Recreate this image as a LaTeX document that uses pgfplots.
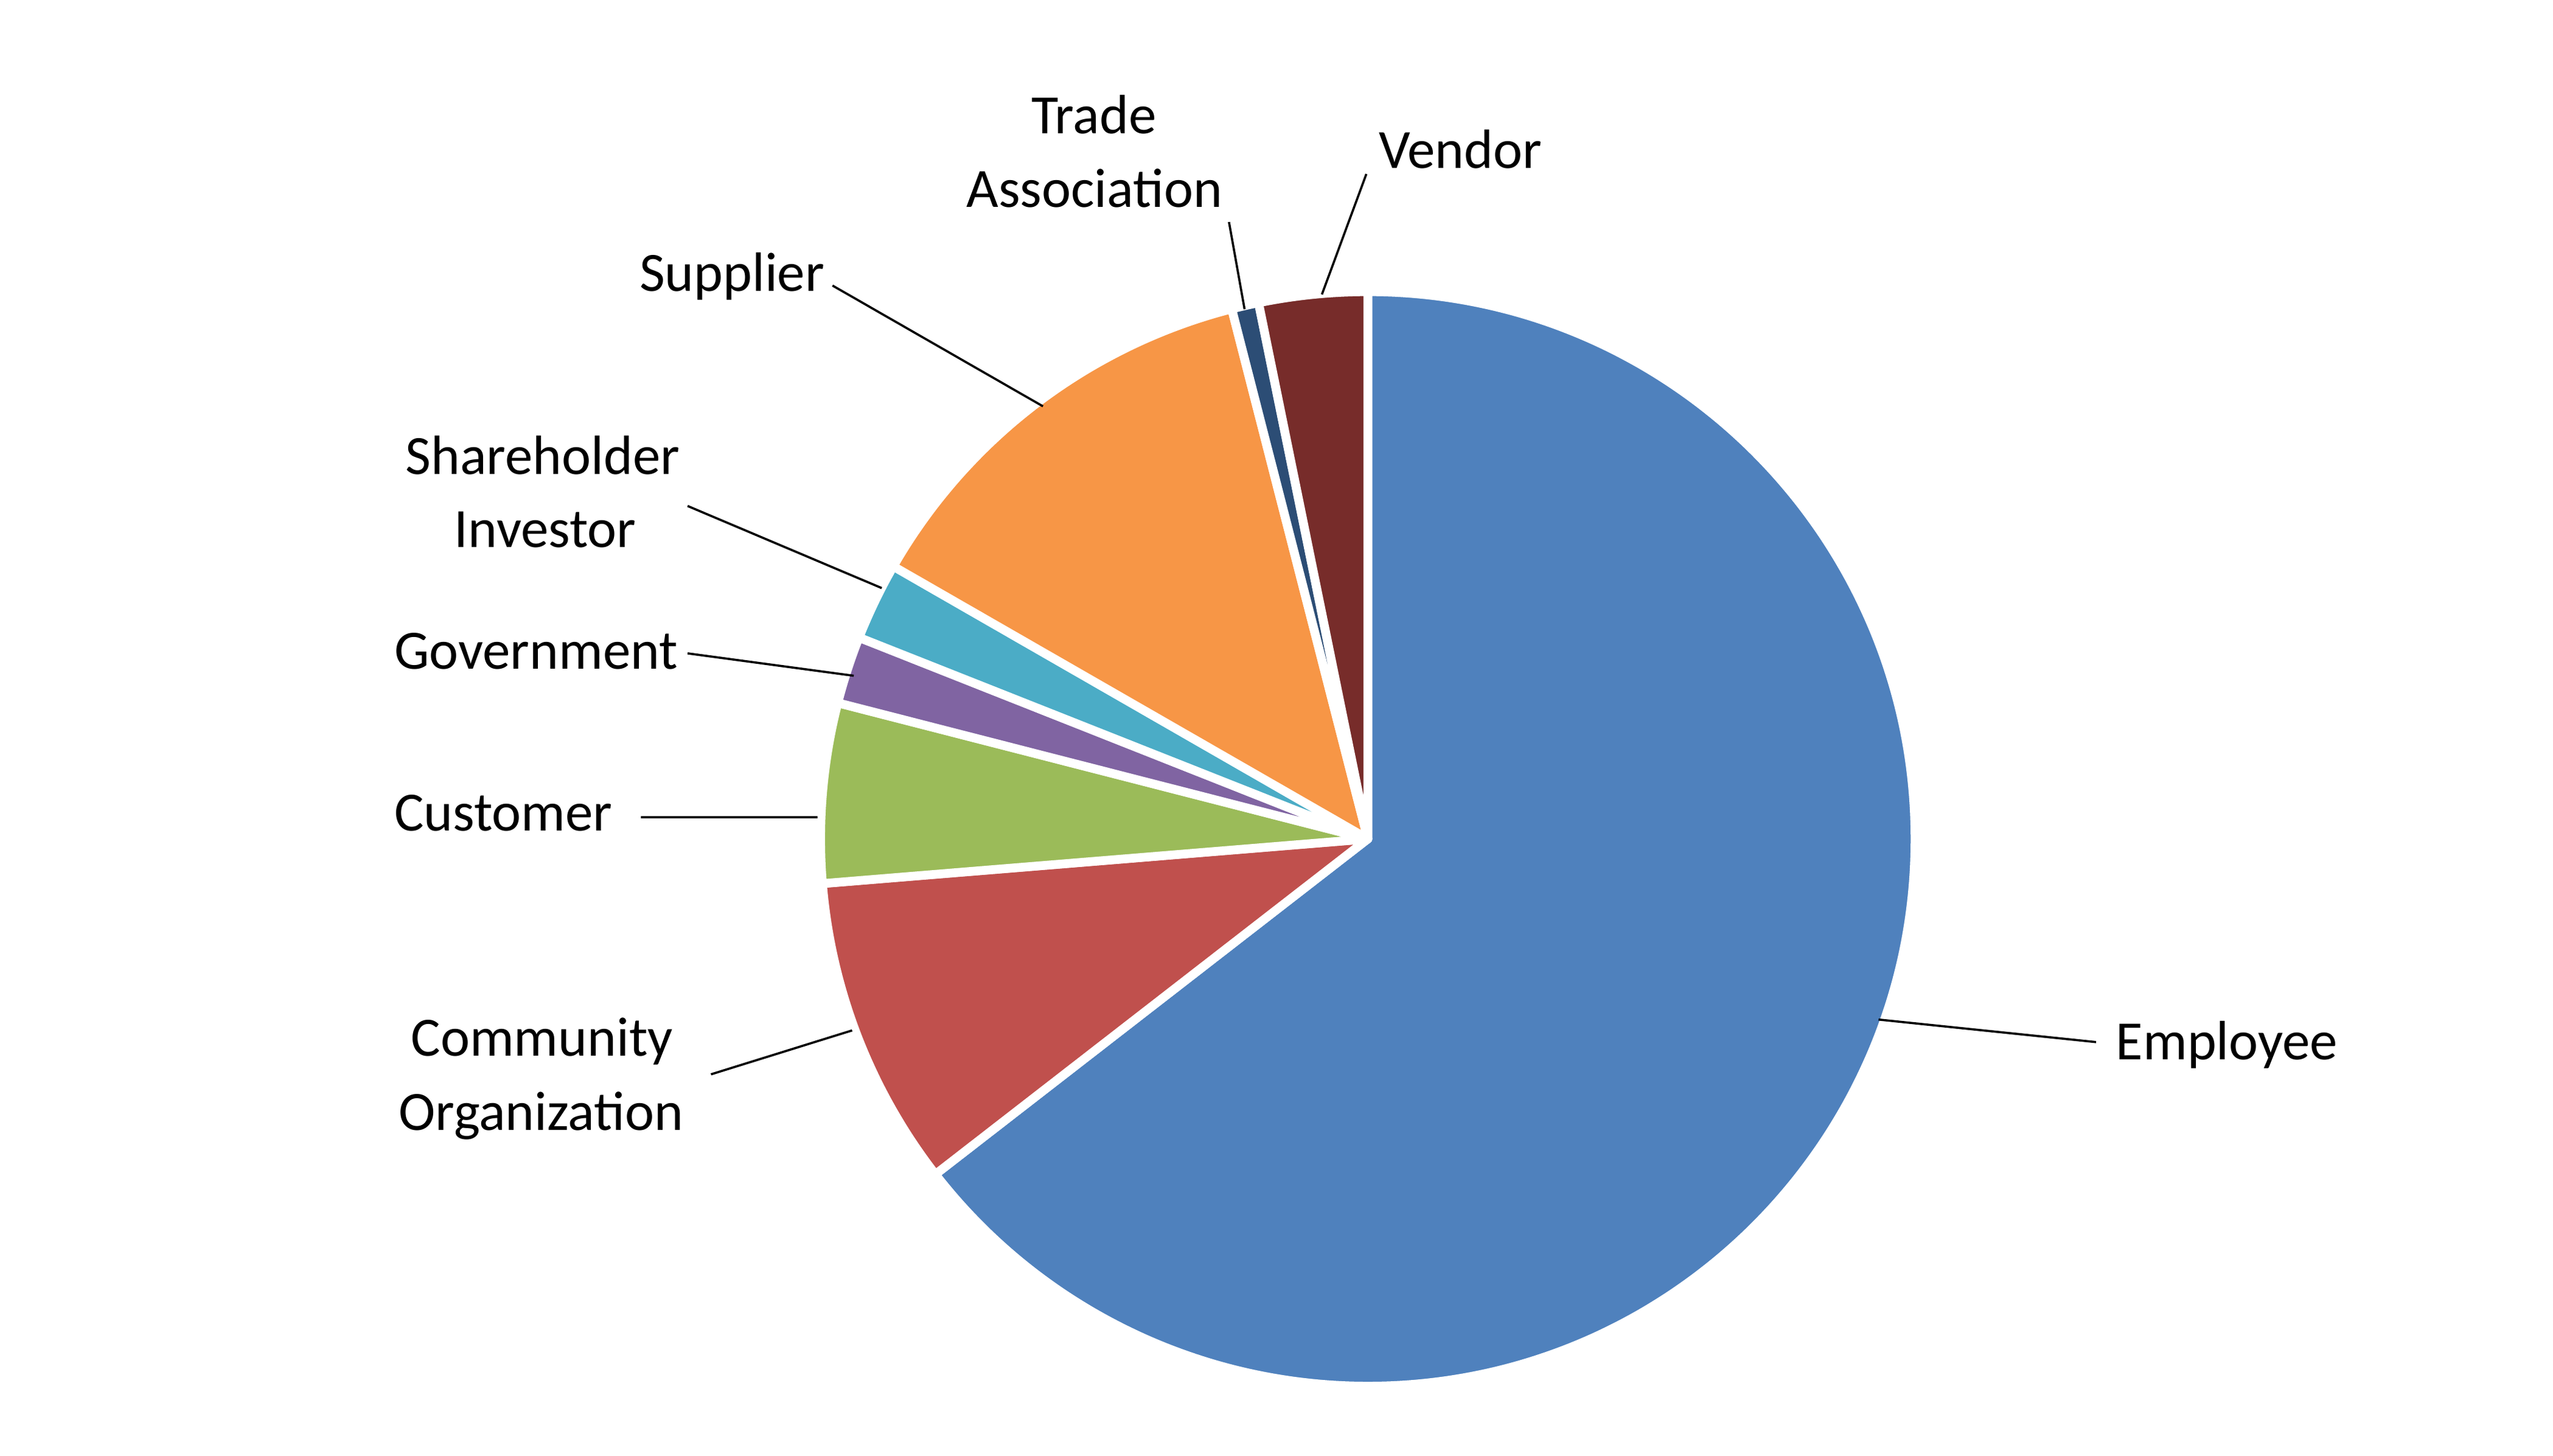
\documentclass[border=0pt]{standalone}
\usepackage{pgfplots}
\usepackage{pgfplotstable}
\usepackage{fontspec}
\setmainfont{Carlito}
\pgfplotsset{compat=1.18}

\definecolor{slice0}{HTML}{4F81BD}
\definecolor{slice1}{HTML}{C0504D}
\definecolor{slice2}{HTML}{9BBB59}
\definecolor{slice3}{HTML}{8064A2}
\definecolor{slice4}{HTML}{4BACC6}
\definecolor{slice5}{HTML}{F79646}
\definecolor{slice6}{HTML}{2C4D75}
\definecolor{slice7}{HTML}{772C2A}

% share of each group, in percent, clockwise from 12 o'clock
\pgfplotstableread{
name share
Employee 64.5
Community 9.2
Customer 5.3
Government 2.0
Shareholder 2.3
Supplier 12.7
Trade 0.8
Vendor 3.2
}\piedata

\begin{document}
\begin{tikzpicture}[lbl/.style={font=\fontsize{10.1}{13.4}\selectfont, inner sep=0pt, anchor=base}]
% start and end angle of each slice
\def\cum{0}
\pgfplotsforeachungrouped \i in {0,...,7}{%
  \pgfplotstablegetelem{\i}{share}\of\piedata
  \pgfmathsetmacro\sa{90-3.6*\cum}%
  \pgfmathsetmacro\cum{\cum+\pgfplotsretval}%
  \pgfmathsetmacro\ea{90-3.6*\cum}%
  \expandafter\xdef\csname sa\i\endcsname{\sa}%
  \expandafter\xdef\csname ea\i\endcsname{\ea}%
}
\begin{axis}[
    x=0.3pt, y=0.3pt,
    xmin=0, xmax=1552, ymin=0, ymax=885,
    hide axis, clip=false
]
\path (axis cs:0,0) rectangle (axis cs:1552,885);
\pgfplotsinvokeforeach{0,...,7}{
  \filldraw[fill=slice#1, draw=white, line width=1.6pt, line join=round]
    (axis cs:831.5,375) -- ++(\csname sa#1\endcsname:99.8pt)
    arc[start angle=\csname sa#1\endcsname, end angle=\csname ea#1\endcsname, radius=99.8pt]
    -- cycle;
}
% leader lines
\draw[black, line width=0.4pt]
  (axis cs:747.1,750) -- (axis cs:756.6,697)
  (axis cs:830.6,779.2) -- (axis cs:803.6,706)
  (axis cs:506.1,711.4) -- (axis cs:634,638)
  (axis cs:418,577.4) -- (axis cs:536,527.5)
  (axis cs:418,487.8) -- (axis cs:519,474.2)
  (axis cs:389.6,388.2) -- (axis cs:497,388.2)
  (axis cs:432.2,231.9) -- (axis cs:518,258.6)
  (axis cs:1142,265.2) -- (axis cs:1274.2,251.5);
% labels
\node[lbl] at (axis cs:665,803.9) {Trade};
\node[lbl] at (axis cs:665.3,759.2) {Association};
\node[lbl] at (axis cs:887.7,782.7) {Vendor};
\node[lbl] at (axis cs:445,708.1) {Supplier};
\node[lbl] at (axis cs:329.9,596.7) {Shareholder};
\node[lbl] at (axis cs:331.5,552.4) {Investor};
\node[lbl] at (axis cs:325.9,478.4) {Government};
\node[lbl] at (axis cs:306,380) {Customer};
\node[lbl] at (axis cs:329.5,242.9) {Community};
\node[lbl] at (axis cs:328.9,198) {Organization};
\node[lbl] at (axis cs:1353.7,240.8) {Employee};
\end{axis}
\end{tikzpicture}
\end{document}
